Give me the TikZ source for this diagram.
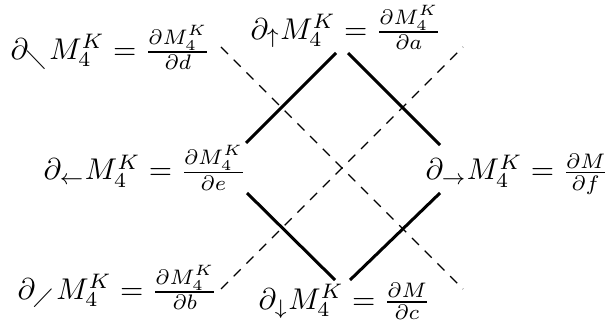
\documentclass[tikz,border=0pt]{standalone}
\usepackage{amssymb}
\begin{document}
\begin{tikzpicture}[x=0.3333pt,y=-0.3333pt,
  lbl/.style={inner sep=0pt, anchor=base west},
  thickedge/.style={line width=1pt},
  dashedge/.style={line width=0.4pt, dash pattern=on 3.3pt off 2.7pt}]
\useasboundingbox (0,0) rectangle (606,323);
% labels
\node[lbl] (a) at (250,39.5) {$\partial_{\uparrow} M_4^K = \frac{\partial M_4^K}{\partial a}$};
\node[lbl] (d) at (10,59.5) {$\partial_{\diagdown} M_4^K = \frac{\partial M_4^K}{\partial d}$};
\node[lbl] (e) at (43,180) {$\partial_{\leftarrow} M_4^K = \frac{\partial M_4^K}{\partial e}$};
\node[lbl] (f) at (425,180) {$\partial_{\rightarrow} M_4^K = \frac{\partial M}{\partial f}$};
\node[lbl] (b) at (17,299.5) {$\partial_{\diagup} M_4^K = \frac{\partial M_4^K}{\partial b}$};
\node[lbl] (c) at (258,309.5) {$\partial_{\downarrow} M_4^K = \frac{\partial M}{\partial c}$};
% connector ends
\coordinate (at1) at (336,53);
\coordinate (at2) at (348,53);
\coordinate (el1) at (246,143);
\coordinate (el2) at (247,193);
\coordinate (fr1) at (440,145);
\coordinate (fr2) at (440,193);
\coordinate (cb1) at (335,280);
\coordinate (cb2) at (350,280);
\coordinate (tl) at (221,47);
\coordinate (tr) at (463,47);
\coordinate (bl) at (221,289);
\coordinate (br) at (463,289);
% solid diamond
\draw[thickedge] (at1) -- (el1);
\draw[thickedge] (at2) -- (fr1);
\draw[thickedge] (el2) -- (cb1);
\draw[thickedge] (fr2) -- (cb2);
% dashed cross
\draw[dashedge] (tl) -- (br);
\draw[dashedge] (bl) -- (tr);
\end{tikzpicture}
\end{document}
